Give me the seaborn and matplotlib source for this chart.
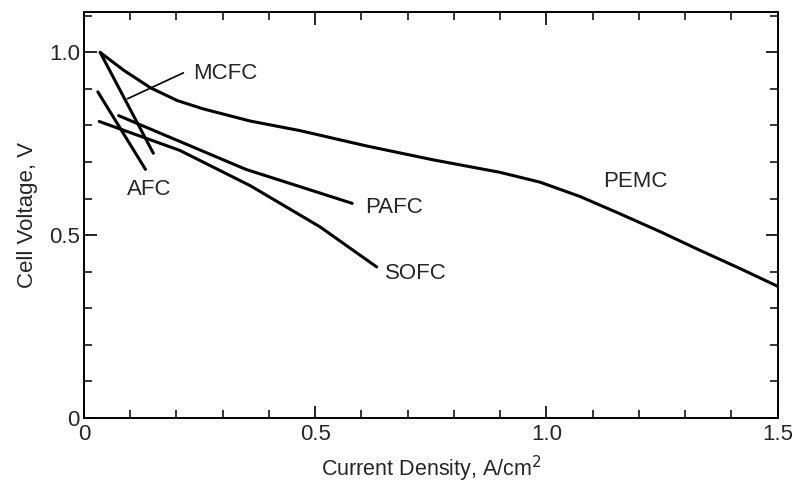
import numpy as np
import pandas as pd
import matplotlib
matplotlib.use("Agg")
import matplotlib.pyplot as plt
from matplotlib.ticker import MultipleLocator, FuncFormatter
import seaborn as sns

# values (current density A/cm2, cell voltage V)
pemc_i = [0.035, 0.086, 0.144, 0.202, 0.259, 0.36, 0.467, 0.611, 0.755,
          0.899, 0.986, 1.072, 1.158, 1.245, 1.331, 1.418, 1.50]
pemc_v = [1.000, 0.951, 0.903, 0.868, 0.845, 0.812, 0.786, 0.744, 0.706,
          0.672, 0.645, 0.606, 0.559, 0.510, 0.459, 0.409, 0.360]

mcfc_i = [0.035, 0.15]
mcfc_v = [1.00, 0.724]

afc_i = [0.030, 0.133]
afc_v = [0.892, 0.680]

pafc_i = [0.075, 0.35, 0.58]
pafc_v = [0.827, 0.680, 0.587]

sofc_i = [0.033, 0.207, 0.36, 0.51, 0.633]
sofc_v = [0.811, 0.732, 0.635, 0.523, 0.413]

labels = ["PEMC", "MCFC", "AFC", "PAFC", "SOFC"]
label_pos = {"PEMC": (1.122, 0.646), "AFC": (0.093, 0.626),
             "PAFC": (0.608, 0.575), "SOFC": (0.65, 0.395)}

curves = pd.concat([
    pd.DataFrame({"cell": "PEMC", "i": pemc_i, "v": pemc_v}),
    pd.DataFrame({"cell": "MCFC", "i": mcfc_i, "v": mcfc_v}),
    pd.DataFrame({"cell": "AFC", "i": afc_i, "v": afc_v}),
    pd.DataFrame({"cell": "PAFC", "i": pafc_i, "v": pafc_v}),
    pd.DataFrame({"cell": "SOFC", "i": sofc_i, "v": sofc_v}),
], ignore_index=True)

sns.set_style("ticks")
plt.rcParams['font.family'] = ['Liberation Sans', 'DejaVu Sans']

fig, ax = plt.subplots(figsize=(7.92, 4.86), dpi=100)
fig.subplots_adjust(left=0.106, right=0.982, top=0.975, bottom=0.14)

for cell in labels:
    sub = curves[curves["cell"] == cell]
    sns.lineplot(data=sub, x="i", y="v", ax=ax, color="black",
                 linewidth=2.2, sort=False, estimator=None)

# labels
for cell, (x, y) in label_pos.items():
    ax.text(x, y, cell, fontsize=16, va="center", ha="left")

# MCFC with a leader line
ax.plot([0.094, 0.215], [0.873, 0.944], color="black", linewidth=1.2)
ax.text(0.236, 0.943, "MCFC", fontsize=16, va="center", ha="left")

ax.set_xlim(0, 1.5)
ax.set_ylim(0, 1.11)
ax.xaxis.set_major_locator(MultipleLocator(0.5))
ax.xaxis.set_minor_locator(MultipleLocator(0.1))
ax.yaxis.set_major_locator(MultipleLocator(0.5))
ax.yaxis.set_minor_locator(MultipleLocator(0.1))
fmt = FuncFormatter(lambda v, p: "0" if abs(v) < 1e-9 else f"{v:.1f}")
ax.xaxis.set_major_formatter(fmt)
ax.yaxis.set_major_formatter(fmt)

ax.tick_params(which="both", direction="in", top=True, right=True,
               color="black", labelsize=16)
ax.tick_params(axis="y", pad=3)
ax.tick_params(axis="x", pad=4)
ax.tick_params(which="major", length=9, width=1.2)
ax.tick_params(which="minor", length=6, width=1.1)
for s in ax.spines.values():
    s.set_visible(True)
    s.set_color("black")
    s.set_linewidth(1.4)

ax.set_xlabel("Current Density, A/cm$^2$", fontsize=15.5, labelpad=7)
ax.set_ylabel("Cell Voltage, V", fontsize=16, labelpad=8)

fig.savefig("out.png", dpi=100)
